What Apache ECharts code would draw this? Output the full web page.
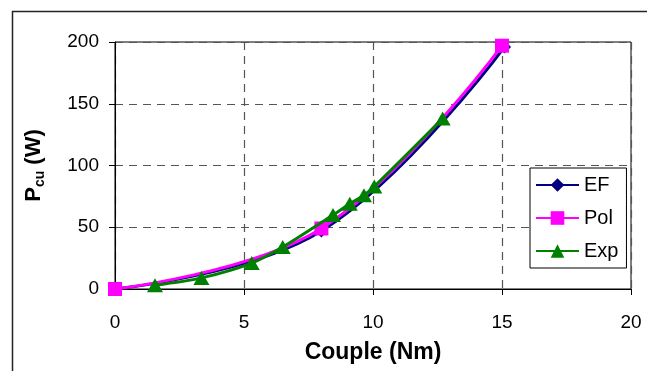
<!DOCTYPE html>
<html>
<head>
<meta charset="utf-8">
<script src="https://cdn.jsdelivr.net/npm/echarts@6/dist/echarts.min.js"></script>
<style>
html,body{margin:0;padding:0;background:#fff;}
#c{width:647px;height:371px;}
</style>
</head>
<body>
<div id="c"></div>
<script>
// Data
var seriesNames = ['EF', 'Pol', 'Exp'];
var efData  = [[0, 0], [8, 47], [15.1, 196]];
var polData = [[0, 0], [8, 49], [15, 197]];
var expData = [[1.55, 3], [3.35, 9], [5.3, 21], [6.5, 34], [8.45, 60], [9.1, 69], [9.65, 76], [10.05, 83], [12.7, 138]];
var xTicks = [0, 5, 10, 15, 20];
var yTicks = [0, 50, 100, 150, 200];
var xName = 'Couple (Nm)';

var FONT = "'Liberation Sans', Arial, sans-serif";
var chart = echarts.init(document.getElementById('c'), null, {renderer: 'canvas'});

var option = {
  backgroundColor: '#fff',
  animation: false,
  graphic: [{
    type: 'rect', silent: true, z: -1,
    shape: {x: 12.5, y: 11.5, width: 700, height: 420},
    style: {fill: 'none', stroke: '#222', lineWidth: 1.5}
  }],
  grid: {left: 115, right: 16, top: 42, bottom: 82, show: true, borderColor: '#000', borderWidth: 1, backgroundColor: 'transparent'},
  legend: {
    orient: 'vertical',
    left: 530, top: 168,
    padding: [7, 8, 7, 5],
    itemWidth: 43, itemHeight: 17, itemGap: 13,
    borderColor: '#000', borderWidth: 1, borderRadius: 0,
    backgroundColor: '#fff',
    textStyle: {fontFamily: FONT, fontSize: 20, color: '#000'},
    data: seriesNames
  },
  xAxis: {
    type: 'value', min: xTicks[0], max: xTicks[xTicks.length - 1], interval: 5,
    name: xName, nameLocation: 'middle', nameGap: 52,
    nameTextStyle: {fontFamily: FONT, fontSize: 23, fontWeight: 'bold', color: '#000'},
    axisLine: {show: true, lineStyle: {color: '#000', width: 1}},
    axisTick: {show: true, length: 6, lineStyle: {color: '#000'}},
    axisLabel: {fontFamily: FONT, fontSize: 19, color: '#000', margin: 24},
    splitLine: {show: true, lineStyle: {color: '#555', type: [8, 6], width: 1.2}}
  },
  yAxis: {
    type: 'value', min: yTicks[0], max: yTicks[yTicks.length - 1], interval: 50,
    name: '{p|P}{s|cu}{p| (W)}', nameLocation: 'middle', nameGap: 68, nameRotate: 90,
    nameTextStyle: {
      rich: {
        p: {fontFamily: FONT, fontSize: 22, fontWeight: 'bold', color: '#000', lineHeight: 26},
        s: {fontFamily: FONT, fontSize: 14, fontWeight: 'bold', color: '#000', lineHeight: 14, verticalAlign: 'bottom'}
      }
    },
    axisLine: {show: true, lineStyle: {color: '#000', width: 1}},
    axisTick: {show: true, length: 6, lineStyle: {color: '#000'}},
    axisLabel: {fontFamily: FONT, fontSize: 19, color: '#000', margin: 16},
    splitLine: {show: true, lineStyle: {color: '#555', type: [8, 6], width: 1.2}}
  },
  series: [
    {name: seriesNames[0], type: 'line', data: efData, smooth: 0.4, symbol: 'diamond', symbolSize: 13,
     lineStyle: {color: '#000080', width: 3}, itemStyle: {color: '#000080'}, z: 2},
    {name: seriesNames[1], type: 'line', data: polData, smooth: 0.4, symbol: 'rect', symbolSize: 14,
     lineStyle: {color: '#FF00FF', width: 3}, itemStyle: {color: '#FF00FF'}, z: 3},
    {name: seriesNames[2], type: 'line', data: expData, smooth: 0.3, symbol: 'triangle', symbolSize: [16, 14],
     lineStyle: {color: '#008000', width: 3}, itemStyle: {color: '#008000'}, z: 4}
  ]
};
chart.setOption(option);
</script>
</body>
</html>
